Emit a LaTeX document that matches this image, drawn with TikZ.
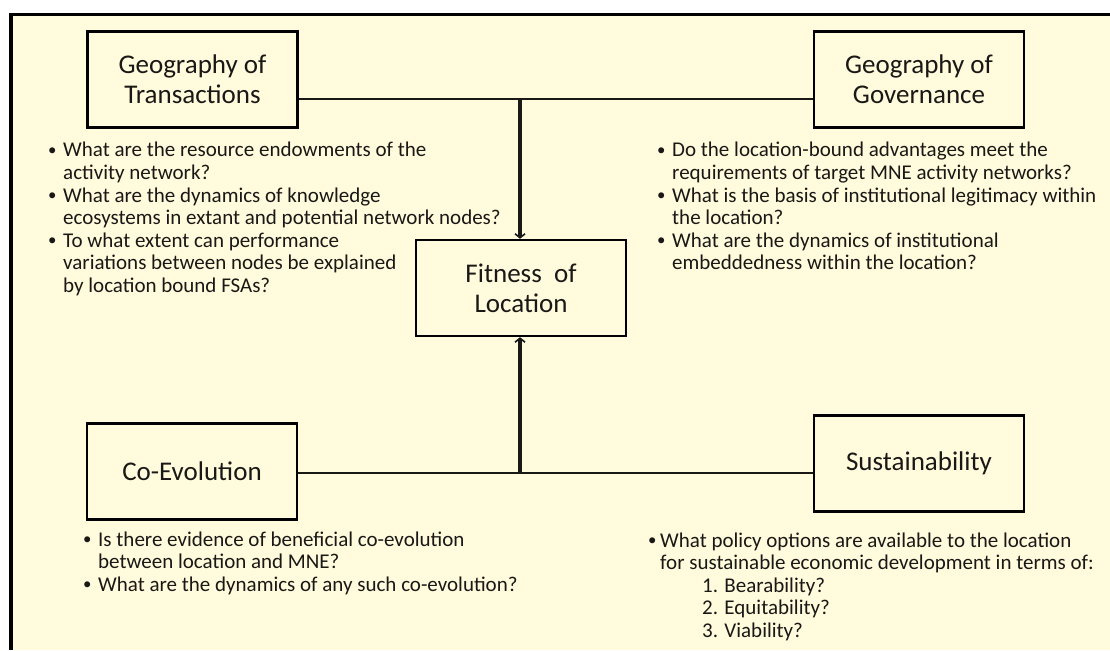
\documentclass[tikz,border=0pt]{standalone}
\usepackage{fontspec}
\setmainfont{Carlito}
\usetikzlibrary{arrows.meta,shadows}
\definecolor{paper}{RGB}{255,251,220}
\definecolor{ink}{RGB}{26,24,22}

% bullet list helpers: bullet column of fixed width, continuation rows indented
\newlength\bulletgap
\newcommand\smallbullet{\raisebox{0.15ex}{\scalebox{0.8}{\textbullet}}}
\newcommand\itm[1]{\makebox[\bulletgap][l]{\smallbullet}&#1\\}
\newcommand\cnt[1]{&#1\\}

\tikzset{
  box/.style={draw=black, line width=2.4pt, fill=paper, minimum width=210pt,
    minimum height=96pt, inner sep=0pt, align=center, text=ink,
    font=\fontsize{27}{30}\selectfont,
    drop shadow={shadow xshift=1.2pt, shadow yshift=-1.2pt, fill=black, opacity=0.3}},
  qtext/.style={inner sep=0pt, anchor=base west, text=ink,
    font=\fontsize{21}{22.5}\selectfont},
  conn/.style={draw=ink, line width=2.2pt},
  arr/.style={draw=ink, line width=3.2pt,
    -{Straight Barb[length=4pt, width=10pt, line width=1.6pt]}}
}

\begin{document}
\begin{tikzpicture}[x=1pt, y=-1pt]
  \useasboundingbox (0,0) rectangle (1110,650);
  % page background with its frame on the top and left edges
  \fill[paper] (11,14.5) rectangle (1110,650);
  \draw[line width=3.8pt, line join=miter] (11,650) -- (11,14.5) -- (1110,14.5);

  % the five boxes
  \node[box] (gt) at (192.5,79.5) {Geography of\\Transactions};
  \node[box] (gg) at (919,79.5) {Geography of\\Governance};
  \node[box] (fl) at (521,288) {Fitness\ \ of\\Location};
  \node[box] (ce) at (192,471.5) {Co-Evolution};
  \node[box] (su) at (919,463.5) {Sustainability};

  % junctions on the two horizontal links
  \coordinate (tj) at (520,99);
  \coordinate (bj) at (520,473);

  \draw[conn] (gt.east |- tj) -- (gg.west |- tj);
  \draw[conn] (ce.east |- bj) -- (su.west |- bj);
  \draw[arr] (tj) -- (tj |- fl.north);
  \draw[arr] (bj) -- (bj |- fl.south);

  % question lists
  \node[qtext] (tl) at (48,157) {\setlength\bulletgap{15pt}%
    \begin{tabular}[t]{@{}l@{}l@{}}
      \itm{What are the resource endowments of the}
      \cnt{activity network?}
      \itm{What are the dynamics of knowledge}
      \cnt{ecosystems in extant and potential network nodes?}
      \itm{To what extent can performance}
      \cnt{variations between nodes be explained}
      \cnt{by location bound FSAs?}
    \end{tabular}};

  \node[qtext] (tr) at (657,157) {\setlength\bulletgap{15pt}%
    \begin{tabular}[t]{@{}l@{}l@{}}
      \itm{Do the location-bound advantages meet the}
      \cnt{requirements of target MNE activity networks?}
      \itm{What is the basis of institutional legitimacy within}
      \cnt{the location?}
      \itm{What are the dynamics of institutional}
      \cnt{embeddedness within the location?}
    \end{tabular}};

  \node[qtext] (bl) at (83,546) {\setlength\bulletgap{15pt}%
    \begin{tabular}[t]{@{}l@{}l@{}}
      \itm{Is there evidence of beneficial co-evolution}
      \cnt{between location and MNE?}
      \itm{What are the dynamics of any such co-evolution?}
    \end{tabular}};

  \node[qtext] (br) at (648,547) {\setlength\bulletgap{12pt}%
    \begin{tabular}[t]{@{}l@{}l@{}}
      \itm{What policy options are available to the location}
      \cnt{for sustainable economic development in terms of:}
      \cnt{\hspace*{42pt}1. Bearability?}
      \cnt{\hspace*{42pt}2. Equitability?}
      \cnt{\hspace*{42pt}3. Viability?}
    \end{tabular}};
\end{tikzpicture}
\end{document}
